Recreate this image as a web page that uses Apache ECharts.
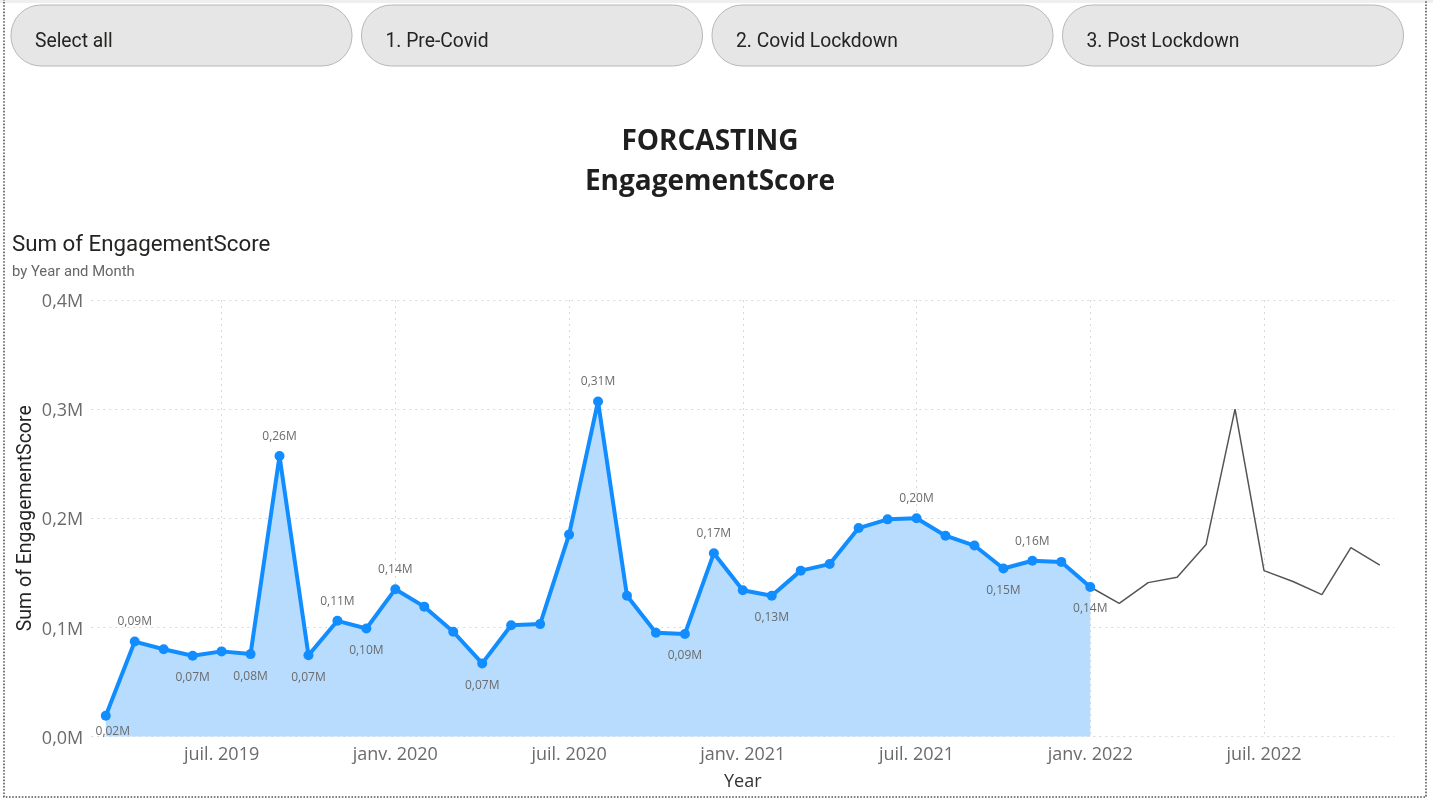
<!DOCTYPE html>
<html><head><meta charset="utf-8">
<style>html,body{margin:0;padding:0;background:#fff;overflow:hidden}#c{width:1433px;height:806px}</style>
<script src="https://cdn.jsdelivr.net/npm/echarts@6/dist/echarts.min.js"></script>
</head><body><div id="c"></div>
<script>
const categories = [
 'mars 2019','avr. 2019','mai 2019','juin 2019','juil. 2019','août 2019','sept. 2019','oct. 2019','nov. 2019','déc. 2019',
 'janv. 2020','févr. 2020','mars 2020','avr. 2020','mai 2020','juin 2020','juil. 2020','août 2020','sept. 2020','oct. 2020','nov. 2020','déc. 2020',
 'janv. 2021','févr. 2021','mars 2021','avr. 2021','mai 2021','juin 2021','juil. 2021','août 2021','sept. 2021','oct. 2021','nov. 2021','déc. 2021',
 'janv. 2022','févr. 2022','mars 2022','avr. 2022','mai 2022','juin 2022','juil. 2022','août 2022','sept. 2022','oct. 2022','nov. 2022'];
const actual = [0.019,0.087,0.080,0.074,0.078,0.0755,0.257,0.0745,0.106,0.099,0.135,0.119,0.096,0.067,0.102,0.103,0.185,0.307,0.129,0.095,0.094,0.168,0.134,0.129,0.152,0.158,0.191,0.199,0.200,0.184,0.175,0.154,0.161,0.160,0.137];
const forecast = [0.137,0.122,0.141,0.146,0.176,0.300,0.152,0.142,0.130,0.173,0.157];
const labelsAbove = ['avr. 2019','sept. 2019','nov. 2019','janv. 2020','août 2020','déc. 2020','juil. 2021','nov. 2021'];
const labelsBelow = ['juin 2019','août 2019','oct. 2019','déc. 2019','avr. 2020','nov. 2020','févr. 2021','oct. 2021','janv. 2022'];
const labelsCorner = ['mars 2019'];
const buttons = ['Select all','1. Pre-Covid','2. Covid Lockdown','3. Post Lockdown'];

const DIN = 'Roboto';
const SEGOE = 'Open Sans';
const fmt = v => v.toFixed(2).replace('.', ',') + 'M';
const isMonthTick = (i) => /^(juil|janv)/.test(categories[i]);

const actualData = actual.map((v, i) => {
  const name = categories[i];
  let offset = null;
  if (labelsAbove.includes(name)) offset = [0, -8.5];
  else if (labelsBelow.includes(name)) offset = [0, 33];
  else if (labelsCorner.includes(name)) offset = [7, 27];
  if (!offset) return { value: v };
  return { value: v, label: { show: true, position: 'top', distance: 0, offset,
    formatter: fmt(v), fontSize: 12, fontFamily: SEGOE, color: '#6b6b6b' } };
});
const forecastData = categories.map((c, i) => {
  const k = i - (actual.length - 1);
  return k >= 0 ? forecast[k] : null;
});

const graphics = [];
graphics.push({ type:'rect', silent:true, shape:{x:0,y:0,width:1433,height:3}, style:{fill:'#efefef'} });
graphics.push({ type:'rect', silent:true, shape:{x:4,y:-4,width:1422,height:801},
  style:{fill:'none',stroke:'#555',lineWidth:1.6,lineDash:[1.6,1.6]} });
buttons.forEach((t, i) => {
  const x = 11 + i * 350.5;
  graphics.push({ type:'rect', silent:true, shape:{x:x,y:5,width:341,height:61,r:30},
    style:{fill:'#e6e6e6',stroke:'#b8b8b8',lineWidth:1} });
  graphics.push({ type:'text', silent:true, x:x+24, y:42,
    style:{text:t,font:'400 19.3px '+DIN,fill:'#252423',verticalAlign:'middle'} });
});
[['FORCASTING',142],['EngagementScore',182]].forEach(([t,y]) => {
  graphics.push({ type:'text', silent:true, x:710, y:y,
    style:{text:t,font:'700 28px "'+SEGOE+'"',fill:'#1f1f1f',align:'center',verticalAlign:'middle'} });
});
graphics.push({ type:'text', silent:true, x:12, y:245,
  style:{text:'Sum of EngagementScore',font:'400 22.3px '+DIN,fill:'#252423',verticalAlign:'middle'} });
graphics.push({ type:'text', silent:true, x:12, y:272,
  style:{text:'by Year and Month',font:'400 14.8px '+DIN,fill:'#666',verticalAlign:'middle'} });

const chart = echarts.init(document.getElementById('c'), null, { renderer:'canvas' });
chart.setOption({
  animation:false,
  backgroundColor:'#fff',
  graphic: graphics,
  grid:{ left:91.3, right:38.7, top:300, height:436.5, containLabel:false, outerBoundsMode:'none' },
  xAxis:{
    type:'category', data:categories, boundaryGap:true,
    name:'Year', nameLocation:'middle', nameGap:36,
    nameTextStyle:{ fontSize:18, color:'#333', fontFamily:SEGOE, fontWeight:500 },
    axisLine:{show:false}, axisTick:{show:false},
    axisLabel:{ interval:isMonthTick, fontSize:18, color:'#6b6b6b', fontFamily:SEGOE, margin:9 },
    splitLine:{ show:true, alignWithLabel:true, interval:isMonthTick, lineStyle:{ type:[2,4], color:'#d8d8d8', width:1 } }
  },
  yAxis:{
    type:'value', min:0, max:0.4, interval:0.1,
    name:'Sum of EngagementScore', nameLocation:'middle', nameGap:55, nameRotate:90, nameMoveOverlap:false,
    nameTextStyle:{ fontSize:19.5, color:'#252423', fontFamily:DIN },
    axisLine:{show:false}, axisTick:{show:false},
    axisLabel:{ fontSize:18, color:'#6b6b6b', fontFamily:SEGOE, margin:8, verticalAlign:'top', lineHeight:4, formatter:v => v.toFixed(1).replace('.', ',') + 'M' },
    splitLine:{ show:true, lineStyle:{ type:[2,4], color:'#d8d8d8', width:1 } }
  },
  series:[
    { name:'Sum of EngagementScore', type:'line', data:actualData, smooth:false, z:3,
      symbol:'circle', symbolSize:10, showSymbol:true,
      lineStyle:{ color:'#118DFF', width:4 }, itemStyle:{ color:'#118DFF' },
      areaStyle:{ color:'#B8DCFE', opacity:1 } },
    { name:'Forecast', type:'line', data:forecastData, smooth:false, z:2, symbol:'none',
      connectNulls:false, lineStyle:{ color:'#555', width:1.5 } }
  ]
});
</script></body></html>
